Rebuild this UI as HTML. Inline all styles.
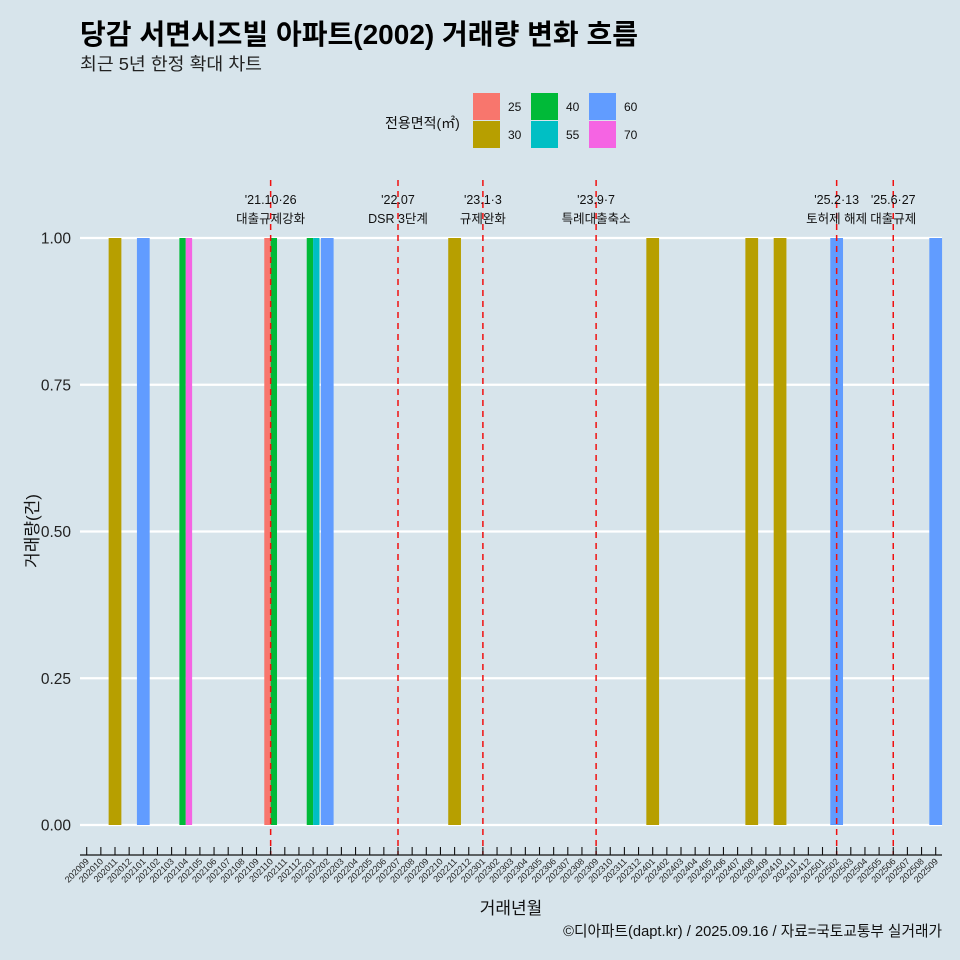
<!DOCTYPE html>
<html><head><meta charset="utf-8">
<style>
html,body{margin:0;padding:0;background:#d7e4eb;}
svg{display:block;font-family:"Liberation Sans","Noto Sans CJK KR",sans-serif;}
</style></head>
<body>
<svg id="chart" width="960" height="960" viewBox="0 0 960 960">
<rect x="0" y="0" width="960" height="960" fill="#d7e4eb"/>
<text x="80" y="44" font-size="28" font-weight="bold" fill="#000" textLength="558" lengthAdjust="spacingAndGlyphs">당감 서면시즈빌 아파트(2002) 거래량 변화 흐름</text>
<text x="80" y="70" font-size="17.5" fill="#222" textLength="182" lengthAdjust="spacingAndGlyphs">최근 5년 한정 확대 차트</text>
<g id="legend"></g>
<g id="grid"></g>
<g id="bars"></g>
<g id="events"></g>
<g id="xaxis"></g>
<g id="yaxis"></g>
<text x="511" y="914" font-size="17" text-anchor="middle" fill="#111">거래년월</text>
<text transform="translate(38,531) rotate(-90)" font-size="17" text-anchor="middle" fill="#111">거래량(건)</text>
<text x="942" y="936" font-size="14.7" text-anchor="end" fill="#111">©디아파트(dapt.kr) / 2025.09.16 / 자료=국토교통부 실거래가</text>
</svg>
<script>
const areas = ["25","30","40","55","60","70"];
const colors = ["#F8766D","#B79F00","#00BA38","#00BFC4","#619CFF","#F564E3"];
const barMonths = ["202011","202101","202104","202104","202110","202110","202201","202201","202202","202211","202401","202408","202410","202502","202509"];
const barAreas  = ["30","60","40","70","25","40","40","55","60","30","30","30","30","60","60"];
const barValues = [1,1,1,1,1,1,1,1,1,1,1,1,1,1,1];
const yTicks = [0,0.25,0.5,0.75,1];
const yTickLabels = ["0.00","0.25","0.50","0.75","1.00"];
const eventMonths = ["202110","202207","202301","202309","202502","202506"];
const eventDates = ["'21.10·26","'22.07","'23.1·3","'23.9·7","'25.2·13","'25.6·27"];
const eventNames = ["대출규제강화","DSR 3단계","규제완화","특례대출축소","토허제 해제","대출규제"];

const NS="http://www.w3.org/2000/svg";
function mk(tag,attrs,parent,text){const e=document.createElementNS(NS,tag);for(const k in attrs)e.setAttribute(k,attrs[k]);if(text!==undefined)e.textContent=text;parent.appendChild(e);return e;}
const months=[];for(let y=2020,m=9;!(y===2025&&m>9);){months.push(""+y+(m<10?"0":"")+m);m++;if(m>12){m=1;y++;}}
const step=14.15, x0=86.7;
function xPos(mo){return x0+months.indexOf(mo)*step;}
function yPos(v){return 825-v*587;}

const grid=document.getElementById('grid'), yaxis=document.getElementById('yaxis');
yTicks.forEach((t,i)=>{
  const l=mk('line',{x1:80,x2:942,y1:yPos(t),y2:yPos(t),stroke:'#fff','stroke-width':2.2},grid);
  
  
  const tx=mk('text',{x:71,y:yPos(t)+5.5,'font-size':15.5,'text-anchor':'end',fill:'#222'},yaxis,yTickLabels[i]);
  
  
});

const bw=step*0.9;
const bars=document.getElementById('bars');
barMonths.forEach((mo,i)=>{
  const same=barMonths.map((m,j)=>m===mo?j:-1).filter(j=>j>=0);
  const n=same.length,k=same.indexOf(i),w=bw/n;
  const x=xPos(mo)-bw/2+k*w;
  const r=mk('rect',{x:x,y:yPos(barValues[i]),width:w,height:yPos(0)-yPos(barValues[i]),fill:colors[areas.indexOf(barAreas[i])]},bars);
  
  
});

const ev=document.getElementById('events');
eventMonths.forEach((mo,i)=>{
  const x=xPos(mo);
  const l=mk('line',{x1:x,x2:x,y1:180,y2:855,stroke:'#f01010','stroke-width':1.5,'stroke-dasharray':'6,5'},ev);
  
  
  const t1=mk('text',{x:x,y:204,'font-size':12.5,'text-anchor':'middle',fill:'#111'},ev,eventDates[i]);
  
  
  const t2=mk('text',{x:x,y:223,'font-size':12.5,'text-anchor':'middle',fill:'#111'},ev,eventNames[i]);
  
  
});

const xa=document.getElementById('xaxis');
const al=mk('line',{x1:80,x2:942,y1:855,y2:855,stroke:'#111','stroke-width':1.3},xa);


months.forEach(mo=>{
  const x=xPos(mo);
  const tk=mk('line',{x1:x,x2:x,y1:847,y2:855,stroke:'#111','stroke-width':1.1},xa);
  
  
  const tx=mk('text',{transform:`translate(${x+3},862) rotate(-45)`,'font-size':9,'text-anchor':'end',fill:'#222'},xa,mo);
  
  
});

const lg=document.getElementById('legend');
const lt=mk('text',{x:385,y:128,'font-size':14,fill:'#111'},lg,'전용면적(㎡)');


areas.forEach((a,i)=>{
  const col=Math.floor(i/2),row=i%2;
  const x=473+col*58,y=93+row*28;
  const r=mk('rect',{x:x,y:y,width:27,height:27,fill:colors[i]},lg);
  
  
  const t=mk('text',{x:x+35,y:y+18,'font-size':12,fill:'#111'},lg,a);
  
  
});
</script>
</body></html>
